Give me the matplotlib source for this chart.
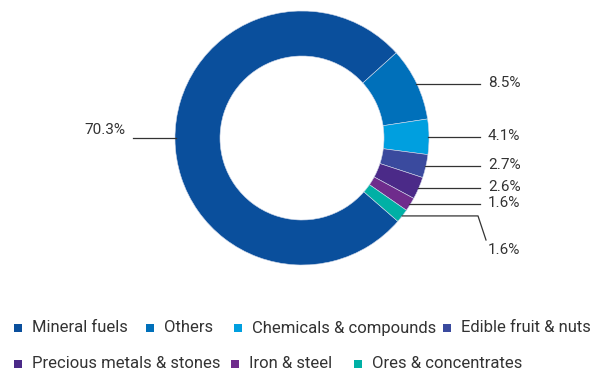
import numpy as np
import matplotlib.pyplot as plt
from matplotlib.patches import Rectangle

# parts des produits exportés (en %)
produits = ["Mineral fuels", "Others", "Chemicals & compounds", "Edible fruit & nuts",
            "Precious metals & stones", "Iron & steel", "Ores & concentrates"]
parts = [70.3, 8.5, 4.1, 2.7, 2.6, 1.6, 1.6]
couleurs = ["#0a4f9c", "#0070ba", "#009fdf", "#3a4a9e", "#4b2a88", "#6f2c8c", "#00b0a5"]

W, H = 611, 374
plt.rcParams['font.family'] = ["Roboto", "DejaVu Sans"]

fig = plt.figure(figsize=(W/100, H/100), dpi=100)
ax = fig.add_axes([0, 0, 1, 1])
Y = lambda y: H - y  # y compté depuis le haut

cx, cy, R, w = 302, Y(138), 127, 45
wedges, _ = ax.pie(parts, colors=couleurs, startangle=-41, counterclock=False,
                   center=(cx, cy), radius=R, wedgeprops=dict(width=w, linewidth=0.4, edgecolor='#cfd8ea'))
ax.set_xlim(0, W)
ax.set_ylim(0, H)
ax.set_aspect('equal')
ax.axis('off')

gris = '#333333'
# étiquettes avec traits de rappel
for i, (wd, p) in enumerate(zip(wedges, parts)):
    a = np.deg2rad((wd.theta1 + wd.theta2) / 2)
    x0, y0 = cx + R*np.cos(a), cy + R*np.sin(a)
    txt = "{:.1f}%".format(p)
    if i == 0:
        y0 = cy
        ax.plot([133, cx - R + 1], [y0, y0], color=gris, lw=0.9)
        ax.text(125, Y(130), txt, ha='right', va='center', fontsize=11, color=gris)
    elif i == len(parts) - 1:
        ax.plot([x0, 478, 486], [y0, y0, Y(240)], color=gris, lw=0.9)
        ax.text(488, Y(250), txt, ha='left', va='center', fontsize=11, color=gris)
    else:
        ax.plot([x0 - 1, 480], [y0, y0], color=gris, lw=0.9)
        ax.text(488, y0 + 1, txt, ha='left', va='center', fontsize=11, color=gris)

# légende sur deux lignes
lignes = [[0, 1, 2, 3], [4, 5, 6]]
xs = [[18, 150, 238, 447], [18, 235, 358]]
ys = [Y(328), Y(364)]
for idx, xl, yl in zip(lignes, xs, ys):
    for i, xm in zip(idx, xl):
        ax.add_patch(Rectangle((xm - 4, yl - 4), 8, 8, color=couleurs[i], lw=0))
        ax.text(xm + 14, yl, produits[i], ha='left', va='center', fontsize=12, color=gris)

plt.savefig("out.png", dpi=100)
